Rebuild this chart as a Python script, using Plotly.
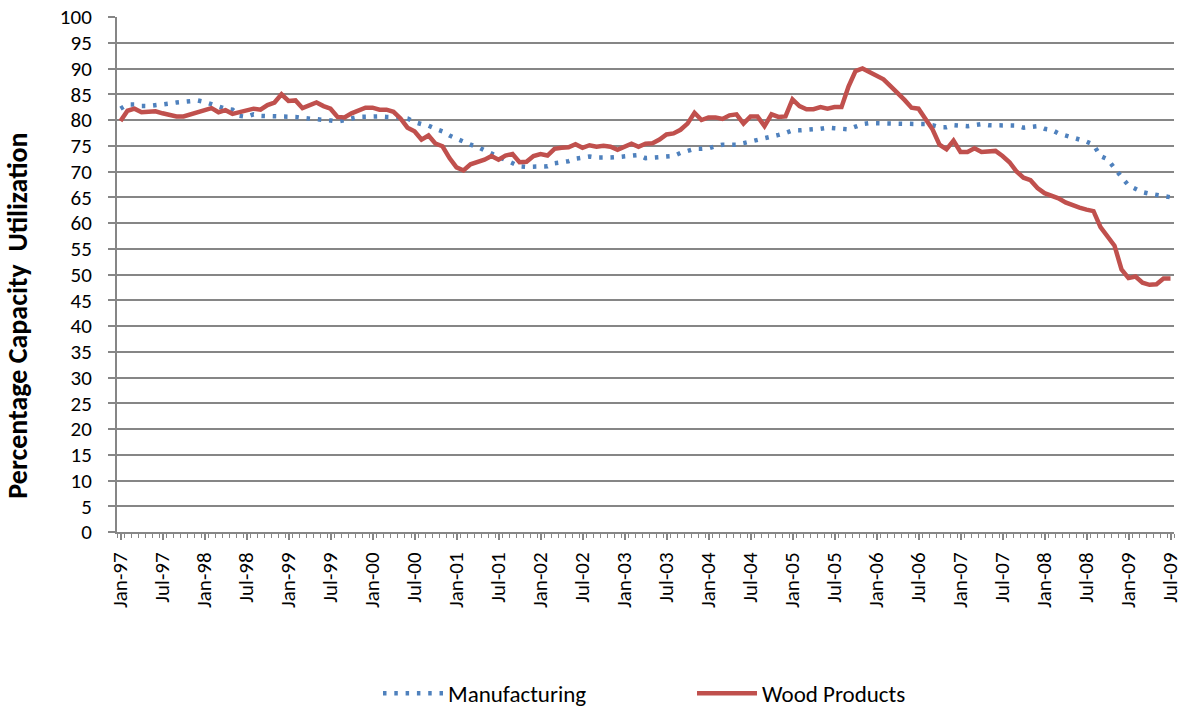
import plotly.graph_objects as go

month_names = ["Jan", "Feb", "Mar", "Apr", "May", "Jun", "Jul", "Aug", "Sep", "Oct", "Nov", "Dec"]
years = ["97", "98", "99", "00", "01", "02", "03", "04", "05", "06", "07", "08", "09"]
months = [f"{m}-{y}" for y in years for m in month_names][:151]  # Jan-97 .. Jul-09

tick_labels = ["Jan-97", "Jul-97", "Jan-98", "Jul-98", "Jan-99", "Jul-99", "Jan-00", "Jul-00",
               "Jan-01", "Jul-01", "Jan-02", "Jul-02", "Jan-03", "Jul-03", "Jan-04", "Jul-04",
               "Jan-05", "Jul-05", "Jan-06", "Jul-06", "Jan-07", "Jul-07", "Jan-08", "Jul-08",
               "Jan-09", "Jul-09"]

manufacturing = [
    82.2, 83.0, 83.0, 82.7, 82.7, 82.8, 83.0, 83.2, 83.4, 83.6, 83.8, 83.8,
    83.5, 83.0, 82.5, 82.2, 82.0, 80.8, 80.6, 81.1, 80.8, 80.8, 80.8, 80.7,
    80.6, 80.6, 80.4, 80.3, 80.3, 80.1, 79.9, 79.7, 79.9, 80.3, 80.6, 80.7,
    80.7, 80.7, 80.6, 80.6, 80.5, 80.3, 79.6, 79.2, 78.9, 78.3, 77.8, 77.0,
    76.5, 75.8, 75.2, 74.8, 74.1, 73.5, 73.0, 72.3, 71.6, 71.0, 70.9, 71.0,
    71.0, 71.0, 71.6, 71.8, 72.0, 72.5, 72.8, 72.9, 72.7, 72.6, 72.7, 72.8,
    72.9, 73.1, 73.2, 72.6, 72.7, 72.9, 72.9, 73.0, 73.6, 74.0, 74.4, 74.4,
    74.5, 74.9, 75.2, 75.2, 75.2, 75.5, 75.8, 76.0, 76.4, 76.8, 77.1, 77.5,
    78.0, 78.0, 78.0, 78.2, 78.3, 78.5, 78.4, 78.2, 78.2, 78.7, 79.2, 79.4,
    79.4, 79.2, 79.3, 79.4, 79.3, 79.2, 79.4, 79.2, 79.0, 78.6, 78.6, 79.0,
    78.9, 78.8, 79.0, 79.2, 79.0, 79.0, 79.1, 79.1, 78.9, 78.5, 78.7, 78.8,
    78.3, 78.1, 77.4, 77.0, 76.7, 76.2, 75.8, 75.2, 73.0, 72.4, 70.5, 68.9,
    67.3, 66.6, 66.0, 65.7, 65.4, 65.1, 65.0,
]

wood_products = [
    79.8, 81.8, 82.2, 81.5, 81.6, 81.7, 81.3, 81.0, 80.7, 80.7, 81.1, 81.3,
    81.9, 82.3, 81.5, 81.9, 81.2, 81.6, 82.0, 82.2, 82.0, 82.9, 83.4, 85.0,
    83.7, 83.8, 82.3, 82.8, 83.4, 82.7, 82.2, 80.6, 80.5, 81.3, 81.8, 82.4,
    82.4, 82.0, 82.0, 81.6, 80.3, 78.5, 77.8, 76.2, 77.0, 75.4, 74.9, 72.6,
    70.8, 70.2, 71.4, 71.8, 72.3, 73.0, 72.3, 73.1, 73.4, 71.8, 71.9, 73.0,
    73.4, 73.1, 74.4, 74.6, 74.7, 75.3, 74.6, 75.1, 74.8, 75.0, 74.8, 74.2,
    74.8, 75.4, 74.8, 75.4, 75.5, 76.2, 77.2, 77.4, 78.1, 79.3, 81.4, 80.0,
    80.5, 80.5, 80.2, 80.9, 81.1, 79.3, 80.7, 80.7, 78.8, 81.1, 80.6, 80.7,
    84.0, 82.7, 82.1, 82.1, 82.5, 82.2, 82.5, 82.5, 86.5, 89.5, 90.0, 89.3,
    88.7, 87.9, 86.6, 85.3, 83.9, 82.4, 82.2, 80.2, 78.2, 75.2, 74.3, 76.0,
    73.8, 73.8, 74.5, 73.8, 73.8, 74.0, 73.0, 71.8, 70.0, 68.8, 68.3, 66.8,
    65.8, 65.3, 64.8, 64.0, 63.4, 63.0, 62.6, 62.3, 59.2, 57.3, 55.6, 51.0,
    49.3, 49.6, 48.4, 48.0, 48.1, 49.2, 49.2,
]

x_idx = list(range(len(months)))
tick_idx = [months.index(t) for t in tick_labels]

FONT = "Carlito, 'Liberation Sans', Arial, sans-serif"
GRID = "#868686"

fig = go.Figure()
fig.add_trace(go.Scatter(
    x=x_idx, y=manufacturing, name="Manufacturing", mode="lines",
    line=dict(color="#4F81BD", width=4.5, dash="3.5px,7.8px"),
    customdata=months, hovertemplate="%{customdata}: %{y}<extra>Manufacturing</extra>",
))
fig.add_trace(go.Scatter(
    x=x_idx, y=wood_products, name="Wood Products", mode="lines",
    line=dict(color="#C0504D", width=4.5),
    customdata=months, hovertemplate="%{customdata}: %{y}<extra>Wood Products</extra>",
))

fig.update_layout(
    width=1186, height=710,
    margin=dict(l=117, r=12, t=17, b=178, autoexpand=False),
    plot_bgcolor="white", paper_bgcolor="white",
    font=dict(family=FONT, size=21, color="black"),
    showlegend=True,
    legend=dict(orientation="h", x=0.544, xanchor="center", y=-0.313, yanchor="middle",
                font=dict(size=23), itemwidth=60, entrywidth=239, entrywidthmode="pixels"),
    xaxis=dict(
        automargin=False,
        range=[-0.5, len(months) - 0.5],
        tickmode="array", tickvals=tick_idx, ticktext=tick_labels,
        tickangle=-90, ticks="outside", ticklen=6, tickcolor=GRID, tickwidth=2,
        ticklabelstandoff=4, ticklabeloverflow="allow",
        showline=True, linecolor=GRID, linewidth=2,
        showgrid=False, zeroline=False,
        minor=dict(tickmode="linear", tick0=-0.5, dtick=1, ticks="outside", ticklen=4,
                   tickcolor=GRID, tickwidth=1, showgrid=False),
        tickfont=dict(size=21),
    ),
    yaxis=dict(
        automargin=False,
        range=[0, 100], dtick=5, tick0=0,
        ticks="outside", ticklen=7, tickcolor=GRID, tickwidth=2,
        ticklabelstandoff=12, ticklabeloverflow="allow",
        showline=True, linecolor=GRID, linewidth=2,
        showgrid=True, gridcolor=GRID, gridwidth=2, zeroline=False,
        tickfont=dict(size=21),
    ),
    annotations=[dict(
        text="<b>Percentage Capacity  Utilization</b>",
        textangle=-90, showarrow=False,
        xref="paper", yref="paper", x=-0.0937, y=0.42,
        xanchor="center", yanchor="middle",
        font=dict(size=28, family=FONT, color="black"),
    )],
)

fig.write_html("out.html", config={"displayModeBar": False},
               post_script="document.body.style.margin='0';")
